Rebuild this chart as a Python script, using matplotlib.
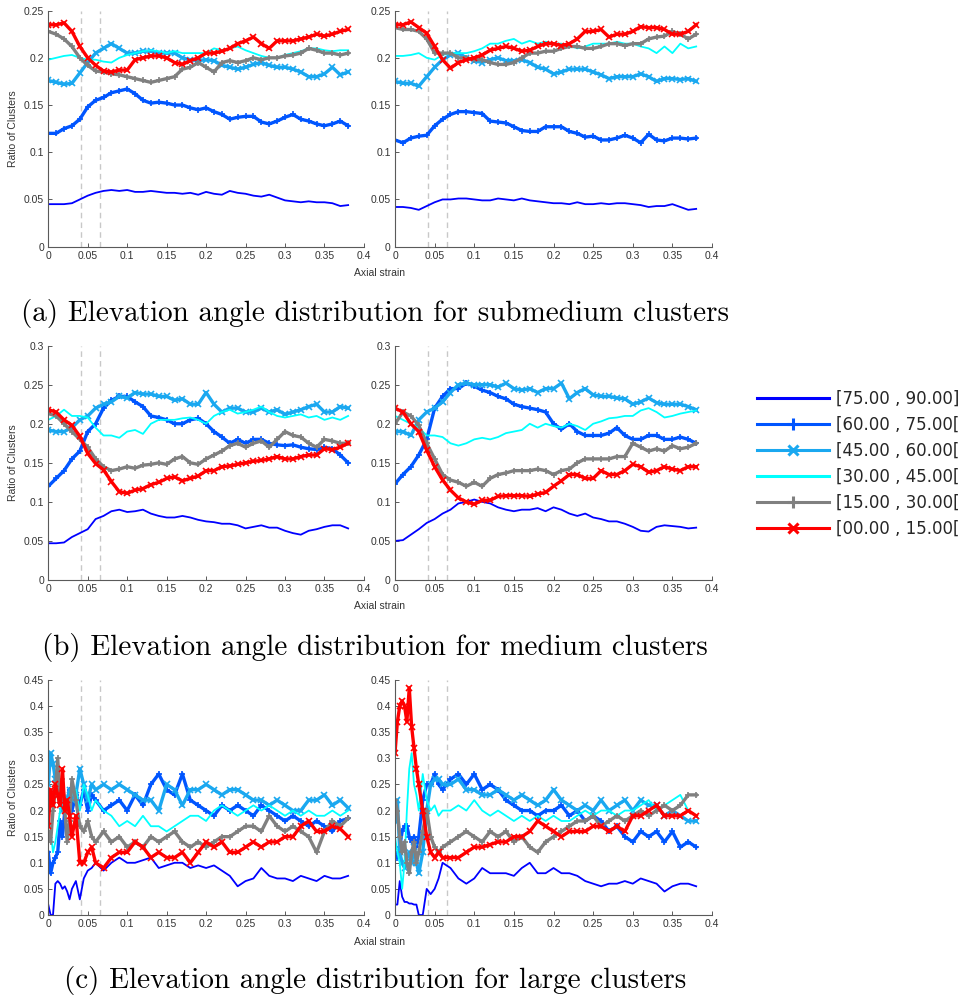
import matplotlib.pyplot as plt
from matplotlib.lines import Line2D
from matplotlib.ticker import FormatStrFormatter, MultipleLocator
import numpy as np


# Elevation angle bins, in legend order (top to bottom)
bin_labels = [
    "[75.00 , 90.00]",
    "[60.00 , 75.00[",
    "[45.00 , 60.00[",
    "[30.00 , 45.00[",
    "[15.00 , 30.00[",
    "[00.00 , 15.00[",
]

# Axial strain samples for rows (a) and (b)
strain_ab = np.arange(39) / 100
# Row (c) is read finer at the start, where the curves spike
strain_c = np.array(
    [0, 0.003, 0.006, 0.009, 0.012, 0.015, 0.018, 0.021, 0.024, 0.027,
     0.03, 0.035, 0.04, 0.045, 0.05, 0.055, 0.06]
    + list(np.arange(7, 39) / 100)
)

# Strain values marked with dashed lines
marker_strains = [0.042, 0.065]

# ---- (a) submedium clusters, left ----
a_left_75_90 = [0.045, 0.045, 0.045, 0.046, 0.05, 0.054, 0.057, 0.059, 0.06, 0.059,
                0.06, 0.058, 0.058, 0.059, 0.058, 0.057, 0.057, 0.056, 0.057, 0.055,
                0.058, 0.056, 0.055, 0.059, 0.057, 0.056, 0.054, 0.053, 0.055, 0.052,
                0.049, 0.048, 0.047, 0.048, 0.047, 0.047, 0.046, 0.043, 0.044]
a_left_60_75 = [0.12, 0.12, 0.125, 0.128, 0.135, 0.148, 0.155, 0.158, 0.163, 0.165,
                0.167, 0.162, 0.155, 0.152, 0.153, 0.152, 0.15, 0.15, 0.147, 0.145,
                0.147, 0.143, 0.14, 0.135, 0.137, 0.138, 0.138, 0.132, 0.13, 0.133,
                0.137, 0.14, 0.135, 0.133, 0.13, 0.128, 0.13, 0.133, 0.128]
a_left_45_60 = [0.176, 0.174, 0.172, 0.173, 0.184, 0.195, 0.205, 0.21, 0.215, 0.21,
                0.205, 0.205, 0.207, 0.207, 0.205, 0.205, 0.205, 0.2, 0.198, 0.197,
                0.198, 0.197, 0.192, 0.19, 0.188, 0.19, 0.193, 0.195, 0.192, 0.19,
                0.19, 0.188, 0.185, 0.18, 0.18, 0.183, 0.19, 0.182, 0.185]
a_left_30_45 = [0.198, 0.2, 0.202, 0.203, 0.2, 0.198, 0.198, 0.196, 0.195, 0.2,
                0.203, 0.205, 0.207, 0.208, 0.207, 0.205, 0.207, 0.205, 0.205, 0.205,
                0.205, 0.21, 0.208, 0.21, 0.212, 0.208, 0.205, 0.202, 0.2, 0.2,
                0.203, 0.205, 0.207, 0.21, 0.21, 0.208, 0.207, 0.208, 0.208]
a_left_15_30 = [0.228, 0.225, 0.22, 0.212, 0.2, 0.192, 0.186, 0.185, 0.183, 0.182,
                0.18, 0.178, 0.176, 0.174, 0.176, 0.178, 0.18, 0.188, 0.19, 0.195,
                0.19, 0.185, 0.195, 0.197, 0.195, 0.197, 0.2, 0.198, 0.2, 0.2,
                0.202, 0.203, 0.205, 0.21, 0.208, 0.205, 0.205, 0.203, 0.205]
a_left_00_15 = [0.235, 0.235, 0.237, 0.228, 0.212, 0.2, 0.192, 0.186, 0.185, 0.187,
                0.187, 0.198, 0.2, 0.202, 0.202, 0.2, 0.195, 0.193, 0.197, 0.2,
                0.205, 0.205, 0.207, 0.21, 0.215, 0.218, 0.222, 0.215, 0.21, 0.218,
                0.218, 0.218, 0.22, 0.222, 0.225, 0.223, 0.225, 0.228, 0.23]

# ---- (a) submedium clusters, right ----
a_right_75_90 = [0.042, 0.042, 0.041, 0.039, 0.043, 0.047, 0.05, 0.05, 0.051, 0.051,
                 0.05, 0.049, 0.049, 0.051, 0.05, 0.049, 0.051, 0.049, 0.048, 0.047,
                 0.046, 0.046, 0.045, 0.047, 0.045, 0.045, 0.046, 0.045, 0.046, 0.046,
                 0.045, 0.044, 0.042, 0.043, 0.043, 0.045, 0.042, 0.039, 0.04]
a_right_60_75 = [0.113, 0.11, 0.115, 0.117, 0.118, 0.128, 0.135, 0.14, 0.143, 0.143,
                 0.142, 0.141, 0.133, 0.132, 0.131, 0.127, 0.123, 0.122, 0.122, 0.127,
                 0.127, 0.127, 0.122, 0.12, 0.116, 0.117, 0.113, 0.113, 0.115, 0.118,
                 0.115, 0.11, 0.119, 0.113, 0.112, 0.115, 0.115, 0.114, 0.115]
a_right_45_60 = [0.175, 0.173, 0.173, 0.17, 0.18, 0.19, 0.198, 0.203, 0.205, 0.2,
                 0.197, 0.195, 0.198, 0.2, 0.197, 0.197, 0.198, 0.195, 0.19, 0.188,
                 0.183, 0.185, 0.188, 0.188, 0.188, 0.185, 0.182, 0.178, 0.18, 0.18,
                 0.18, 0.183, 0.18, 0.175, 0.178, 0.178, 0.177, 0.178, 0.175]
a_right_30_45 = [0.202, 0.202, 0.203, 0.205, 0.2, 0.198, 0.203, 0.205, 0.205, 0.205,
                 0.207, 0.21, 0.215, 0.215, 0.218, 0.22, 0.215, 0.218, 0.215, 0.217,
                 0.215, 0.215, 0.213, 0.21, 0.212, 0.215, 0.215, 0.215, 0.217, 0.215,
                 0.215, 0.212, 0.21, 0.205, 0.212, 0.205, 0.215, 0.21, 0.212]
a_right_15_30 = [0.232, 0.23, 0.23, 0.228, 0.22, 0.205, 0.205, 0.205, 0.2, 0.2,
                 0.198, 0.198, 0.195, 0.193, 0.193, 0.195, 0.2, 0.205, 0.205, 0.207,
                 0.207, 0.21, 0.212, 0.212, 0.21, 0.21, 0.212, 0.215, 0.215, 0.213,
                 0.215, 0.215, 0.22, 0.222, 0.223, 0.228, 0.225, 0.22, 0.225]
a_right_00_15 = [0.235, 0.235, 0.238, 0.232, 0.226, 0.212, 0.198, 0.189, 0.195, 0.198,
                 0.2, 0.203, 0.208, 0.21, 0.212, 0.21, 0.207, 0.208, 0.212, 0.215,
                 0.215, 0.213, 0.215, 0.22, 0.228, 0.228, 0.23, 0.222, 0.225, 0.225,
                 0.228, 0.233, 0.232, 0.232, 0.23, 0.225, 0.225, 0.228, 0.235]

# ---- (b) medium clusters, left ----
b_left_75_90 = [0.047, 0.047, 0.048, 0.055, 0.06, 0.065, 0.078, 0.082, 0.088, 0.09,
                0.087, 0.088, 0.09, 0.085, 0.082, 0.08, 0.08, 0.082, 0.08, 0.077,
                0.075, 0.074, 0.072, 0.072, 0.07, 0.066, 0.068, 0.07, 0.067, 0.067,
                0.063, 0.06, 0.058, 0.063, 0.065, 0.068, 0.07, 0.07, 0.066]
b_left_60_75 = [0.12, 0.13, 0.14, 0.155, 0.165, 0.19, 0.2, 0.22, 0.23, 0.235,
                0.235, 0.228, 0.222, 0.21, 0.208, 0.205, 0.2, 0.2, 0.205, 0.207,
                0.2, 0.19, 0.183, 0.175, 0.18, 0.175, 0.18, 0.18, 0.175, 0.173,
                0.172, 0.173, 0.17, 0.168, 0.167, 0.17, 0.168, 0.16, 0.15]
b_left_45_60 = [0.192, 0.19, 0.19, 0.195, 0.205, 0.21, 0.22, 0.225, 0.228, 0.235,
                0.233, 0.24, 0.238, 0.238, 0.235, 0.235, 0.23, 0.232, 0.225, 0.225,
                0.24, 0.225, 0.215, 0.22, 0.22, 0.215, 0.215, 0.22, 0.215, 0.218,
                0.212, 0.215, 0.218, 0.222, 0.225, 0.215, 0.215, 0.222, 0.22]
b_left_30_45 = [0.205, 0.21, 0.218, 0.21, 0.21, 0.208, 0.195, 0.185, 0.185, 0.182,
                0.19, 0.192, 0.187, 0.2, 0.205, 0.205, 0.205, 0.207, 0.208, 0.205,
                0.2, 0.21, 0.215, 0.218, 0.213, 0.215, 0.218, 0.222, 0.215, 0.21,
                0.208, 0.21, 0.212, 0.208, 0.21, 0.205, 0.208, 0.205, 0.21]
b_left_15_30 = [0.213, 0.21, 0.2, 0.19, 0.18, 0.17, 0.155, 0.145, 0.14, 0.142,
                0.145, 0.143, 0.147, 0.148, 0.15, 0.148, 0.155, 0.158, 0.15, 0.148,
                0.155, 0.16, 0.165, 0.172, 0.175, 0.17, 0.175, 0.178, 0.17, 0.18,
                0.19, 0.185, 0.183, 0.175, 0.17, 0.18, 0.178, 0.175, 0.175]
b_left_00_15 = [0.218, 0.215, 0.205, 0.198, 0.184, 0.162, 0.149, 0.141, 0.126, 0.113,
                0.111, 0.115, 0.117, 0.122, 0.125, 0.13, 0.132, 0.127, 0.13, 0.133,
                0.14, 0.14, 0.145, 0.146, 0.148, 0.15, 0.152, 0.153, 0.155, 0.158,
                0.155, 0.155, 0.158, 0.16, 0.16, 0.168, 0.167, 0.17, 0.175]

# ---- (b) medium clusters, right ----
b_right_75_90 = [0.05, 0.051, 0.058, 0.065, 0.073, 0.078, 0.085, 0.09, 0.098, 0.1,
                 0.103, 0.1, 0.098, 0.093, 0.09, 0.088, 0.09, 0.09, 0.092, 0.088,
                 0.093, 0.09, 0.085, 0.082, 0.085, 0.08, 0.078, 0.075, 0.075, 0.072,
                 0.068, 0.063, 0.062, 0.068, 0.07, 0.069, 0.068, 0.066, 0.067]
b_right_60_75 = [0.123, 0.135, 0.145, 0.16, 0.18, 0.22, 0.235, 0.245, 0.245, 0.252,
                 0.248, 0.243, 0.24, 0.235, 0.232, 0.225, 0.222, 0.22, 0.218, 0.215,
                 0.2, 0.193, 0.2, 0.19, 0.185, 0.185, 0.185, 0.188, 0.195, 0.185,
                 0.18, 0.18, 0.185, 0.185, 0.18, 0.18, 0.183, 0.18, 0.175]
b_right_45_60 = [0.19, 0.19, 0.185, 0.205, 0.215, 0.22, 0.228, 0.24, 0.25, 0.252,
                 0.25, 0.25, 0.25, 0.247, 0.252, 0.245, 0.243, 0.245, 0.24, 0.245,
                 0.245, 0.252, 0.232, 0.24, 0.245, 0.237, 0.235, 0.235, 0.233, 0.232,
                 0.225, 0.228, 0.233, 0.227, 0.225, 0.225, 0.225, 0.222, 0.218]
b_right_30_45 = [0.21, 0.205, 0.2, 0.195, 0.185, 0.185, 0.183, 0.175, 0.172, 0.175,
                 0.18, 0.182, 0.18, 0.183, 0.188, 0.19, 0.192, 0.2, 0.195, 0.2,
                 0.197, 0.195, 0.2, 0.197, 0.192, 0.2, 0.203, 0.207, 0.208, 0.21,
                 0.21, 0.217, 0.22, 0.215, 0.208, 0.21, 0.213, 0.215, 0.217]
b_right_15_30 = [0.2, 0.215, 0.21, 0.198, 0.175, 0.155, 0.135, 0.128, 0.125, 0.12,
                 0.125, 0.12, 0.13, 0.135, 0.137, 0.14, 0.14, 0.14, 0.142, 0.14,
                 0.135, 0.14, 0.142, 0.15, 0.155, 0.155, 0.155, 0.155, 0.158, 0.158,
                 0.175, 0.17, 0.165, 0.168, 0.165, 0.172, 0.168, 0.17, 0.175]
b_right_00_15 = [0.22, 0.215, 0.2, 0.19, 0.166, 0.145, 0.128, 0.115, 0.105, 0.1,
                 0.097, 0.102, 0.102, 0.107, 0.108, 0.108, 0.108, 0.107, 0.11, 0.112,
                 0.12, 0.127, 0.135, 0.135, 0.13, 0.13, 0.14, 0.135, 0.135, 0.14,
                 0.148, 0.145, 0.138, 0.14, 0.145, 0.142, 0.14, 0.145, 0.145]

# ---- (c) large clusters, left ----
c_left_75_90 = [0.02, 0.0, 0.0, 0.06, 0.065, 0.06, 0.05, 0.055, 0.045, 0.03,
                0.05, 0.065, 0.03, 0.07, 0.085, 0.09, 0.1,
                0.085, 0.1, 0.11, 0.1, 0.1, 0.105, 0.11, 0.09, 0.095, 0.1,
                0.1, 0.09, 0.095, 0.09, 0.095, 0.085, 0.075, 0.055, 0.065, 0.07,
                0.09, 0.075, 0.07, 0.07, 0.065, 0.075, 0.07, 0.065, 0.075, 0.07,
                0.07, 0.075]
c_left_60_75 = [0.12, 0.08, 0.1, 0.11, 0.12, 0.18, 0.15, 0.2, 0.22, 0.24,
                0.2, 0.23, 0.21, 0.24, 0.2, 0.23, 0.22,
                0.2, 0.21, 0.22, 0.2, 0.23, 0.21, 0.25, 0.27, 0.24, 0.23,
                0.27, 0.22, 0.21, 0.2, 0.19, 0.21, 0.2, 0.21, 0.2, 0.19,
                0.21, 0.2, 0.19, 0.18, 0.19, 0.18, 0.17, 0.18, 0.17, 0.16,
                0.18, 0.185]
c_left_45_60 = [0.25, 0.31, 0.29, 0.26, 0.25, 0.22, 0.2, 0.21, 0.22, 0.24,
                0.22, 0.23, 0.28, 0.25, 0.22, 0.25, 0.24,
                0.25, 0.24, 0.25, 0.24, 0.23, 0.22, 0.22, 0.2, 0.25, 0.24,
                0.21, 0.24, 0.24, 0.25, 0.24, 0.23, 0.24, 0.24, 0.23, 0.22,
                0.22, 0.21, 0.22, 0.21, 0.2, 0.2, 0.22, 0.22, 0.23, 0.21,
                0.22, 0.205]
c_left_30_45 = [0.15, 0.16, 0.12, 0.14, 0.17, 0.2, 0.22, 0.23, 0.21, 0.22,
                0.23, 0.24, 0.2, 0.25, 0.23, 0.2, 0.22,
                0.2, 0.19, 0.17, 0.18, 0.17, 0.19, 0.17, 0.17, 0.16, 0.17,
                0.18, 0.19, 0.19, 0.18, 0.2, 0.21, 0.2, 0.19, 0.2, 0.21,
                0.2, 0.21, 0.2, 0.19, 0.2, 0.19, 0.2, 0.19, 0.19, 0.2,
                0.19, 0.2]
c_left_15_30 = [0.16, 0.14, 0.2, 0.24, 0.3, 0.22, 0.26, 0.2, 0.14, 0.18,
                0.26, 0.22, 0.17, 0.16, 0.18, 0.15, 0.14,
                0.16, 0.14, 0.15, 0.13, 0.14, 0.13, 0.15, 0.14, 0.15, 0.16,
                0.14, 0.13, 0.14, 0.13, 0.14, 0.15, 0.15, 0.16, 0.17, 0.17,
                0.16, 0.19, 0.17, 0.16, 0.17, 0.16, 0.15, 0.12, 0.16, 0.18,
                0.17, 0.185]
c_left_00_15 = [0.17, 0.24, 0.21, 0.25, 0.23, 0.21, 0.28, 0.2, 0.22, 0.19,
                0.15, 0.19, 0.1, 0.1, 0.12, 0.13, 0.1,
                0.09, 0.11, 0.12, 0.12, 0.14, 0.13, 0.11, 0.12, 0.11, 0.11,
                0.12, 0.1, 0.12, 0.14, 0.13, 0.14, 0.12, 0.12, 0.13, 0.14,
                0.13, 0.14, 0.14, 0.15, 0.15, 0.17, 0.18, 0.16, 0.16, 0.17,
                0.165, 0.15]

# ---- (c) large clusters, right ----
c_right_75_90 = [0.02, 0.02, 0.065, 0.035, 0.025, 0.025, 0.022, 0.022, 0.02, 0.02,
                 0.0, 0.0, 0.05, 0.04, 0.05, 0.07, 0.1,
                 0.09, 0.07, 0.06, 0.07, 0.09, 0.08, 0.08, 0.08, 0.075, 0.09,
                 0.1, 0.08, 0.08, 0.09, 0.08, 0.08, 0.075, 0.065, 0.06, 0.055,
                 0.06, 0.06, 0.065, 0.06, 0.07, 0.065, 0.06, 0.045, 0.055, 0.06,
                 0.06, 0.055]
c_right_60_75 = [0.12, 0.11, 0.13, 0.16, 0.17, 0.17, 0.15, 0.14, 0.15, 0.13,
                 0.15, 0.22, 0.25, 0.25, 0.27, 0.25, 0.24,
                 0.26, 0.27, 0.25, 0.27, 0.24, 0.25, 0.24, 0.22, 0.21, 0.2,
                 0.2, 0.19, 0.2, 0.2, 0.21, 0.19, 0.2, 0.18, 0.19, 0.18,
                 0.16, 0.17, 0.15, 0.14, 0.16, 0.15, 0.16, 0.14, 0.16, 0.13,
                 0.14, 0.13]
c_right_45_60 = [0.18, 0.22, 0.12, 0.1, 0.09, 0.11, 0.12, 0.1, 0.13, 0.1,
                 0.08, 0.12, 0.2, 0.25, 0.26, 0.26, 0.25,
                 0.25, 0.26, 0.24, 0.24, 0.23, 0.23, 0.24, 0.23, 0.22, 0.23,
                 0.22, 0.21, 0.22, 0.24, 0.22, 0.21, 0.2, 0.21, 0.2, 0.22,
                 0.2, 0.21, 0.22, 0.2, 0.22, 0.21, 0.21, 0.19, 0.2, 0.19,
                 0.18, 0.18]
c_right_30_45 = [0.15, 0.12, 0.1, 0.05, 0.1, 0.2, 0.28, 0.31, 0.25, 0.23,
                 0.2, 0.27, 0.22, 0.2, 0.21, 0.19, 0.2,
                 0.2, 0.21, 0.2, 0.22, 0.2, 0.19, 0.2, 0.19, 0.18, 0.19,
                 0.18, 0.19, 0.18, 0.19, 0.18, 0.18, 0.19, 0.2, 0.19, 0.2,
                 0.2, 0.19, 0.2, 0.2, 0.21, 0.22, 0.2, 0.21, 0.22, 0.23,
                 0.2, 0.19]
c_right_15_30 = [0.22, 0.2, 0.15, 0.12, 0.14, 0.1, 0.08, 0.12, 0.14, 0.1,
                 0.12, 0.16, 0.2, 0.15, 0.13, 0.12, 0.13,
                 0.14, 0.15, 0.16, 0.15, 0.14, 0.16, 0.15, 0.16, 0.14, 0.15,
                 0.13, 0.12, 0.14, 0.15, 0.16, 0.17, 0.18, 0.18, 0.19, 0.17,
                 0.18, 0.19, 0.18, 0.19, 0.2, 0.19, 0.2, 0.21, 0.2, 0.21,
                 0.23, 0.23]
c_right_00_15 = [0.31, 0.37, 0.4, 0.41, 0.4, 0.37, 0.435, 0.36, 0.32, 0.28,
                 0.25, 0.2, 0.15, 0.12, 0.11, 0.12, 0.11,
                 0.11, 0.11, 0.12, 0.13, 0.13, 0.135, 0.14, 0.14, 0.15, 0.15,
                 0.16, 0.18, 0.17, 0.16, 0.15, 0.16, 0.16, 0.16, 0.17, 0.17,
                 0.16, 0.17, 0.16, 0.19, 0.19, 0.2, 0.21, 0.19, 0.19, 0.19,
                 0.2, 0.19]

captions = [
    "(a) Elevation angle distribution for submedium clusters",
    "(b) Elevation angle distribution for medium clusters",
    "(c) Elevation angle distribution for large clusters",
]

# Line style per bin (same order as bin_labels)
bin_styles = [
    {"color": "#0000ff", "lw": 1.3, "marker": None, "ms": 0},
    {"color": "#0055ff", "lw": 2.4, "marker": "+", "ms": 5},
    {"color": "#1aa8f0", "lw": 2.4, "marker": "x", "ms": 4.5},
    {"color": "#00ffff", "lw": 1.3, "marker": None, "ms": 0},
    {"color": "#808080", "lw": 2.4, "marker": "+", "ms": 5},
    {"color": "#ff0000", "lw": 2.4, "marker": "x", "ms": 4.5},
]

axis_color = "#5a5a5a"
text_color = "#333333"
sans = ["Liberation Sans", "DejaVu Sans"]


def draw_panel(ax, strain, series, ymax, show_ylabel):
    """Draw one panel: six bins against axial strain, MATLAB-like axes."""
    for xs in marker_strains:
        ax.axvline(xs, color="#c8c8c8", lw=1.0, ls=(0, (4, 3)), zorder=1)

    for values, style in zip(series, bin_styles):
        ax.plot(
            strain,
            values,
            color=style["color"],
            lw=style["lw"],
            marker=style["marker"],
            markersize=style["ms"],
            markeredgewidth=1.2,
            zorder=2,
        )

    ax.set_xlim(0, 0.4)
    ax.set_ylim(0, ymax)
    ax.xaxis.set_major_locator(MultipleLocator(0.05))
    ax.yaxis.set_major_locator(MultipleLocator(0.05))
    ax.xaxis.set_major_formatter(FormatStrFormatter("%g"))
    ax.yaxis.set_major_formatter(FormatStrFormatter("%g"))

    for side in ["top", "right"]:
        ax.spines[side].set_visible(False)
    for side in ["left", "bottom"]:
        ax.spines[side].set_color(axis_color)
        ax.spines[side].set_linewidth(0.8)

    ax.tick_params(
        direction="in",
        length=3,
        width=0.7,
        color=axis_color,
        labelcolor=text_color,
        labelsize=7.5,
        pad=3,
    )
    for lab in ax.get_xticklabels() + ax.get_yticklabels():
        lab.set_family(sans)

    if show_ylabel:
        ax.set_ylabel("Ratio of Clusters", fontsize=7.5, color=text_color, family=sans)
        ax.yaxis.set_label_coords(-0.095, 0.5)


fig = plt.figure(figsize=(9.71, 10.01), dpi=100)

# (bottom, height, ymax) for each row, (left, width) for each column
row_boxes = [(0.7536, 0.2358, 0.25), (0.4206, 0.2341, 0.3), (0.0859, 0.2348, 0.45)]
col_boxes = [(0.0497, 0.3251), (0.4068, 0.3265)]

panel_data = [
    [
        (strain_ab, [a_left_75_90, a_left_60_75, a_left_45_60, a_left_30_45, a_left_15_30, a_left_00_15]),
        (strain_ab, [a_right_75_90, a_right_60_75, a_right_45_60, a_right_30_45, a_right_15_30, a_right_00_15]),
    ],
    [
        (strain_ab, [b_left_75_90, b_left_60_75, b_left_45_60, b_left_30_45, b_left_15_30, b_left_00_15]),
        (strain_ab, [b_right_75_90, b_right_60_75, b_right_45_60, b_right_30_45, b_right_15_30, b_right_00_15]),
    ],
    [
        (strain_c, [c_left_75_90, c_left_60_75, c_left_45_60, c_left_30_45, c_left_15_30, c_left_00_15]),
        (strain_c, [c_right_75_90, c_right_60_75, c_right_45_60, c_right_30_45, c_right_15_30, c_right_00_15]),
    ],
]

# x label and caption vertical positions (figure fraction) per row
xlabel_y = [0.7273, 0.3946, 0.0589]
caption_y = [0.687, 0.3536, 0.02]

for r, (bottom, height, ymax) in enumerate(row_boxes):
    for c, (left, width) in enumerate(col_boxes):
        ax = fig.add_axes([left, bottom, width, height])
        strain, series = panel_data[r][c]
        draw_panel(ax, strain, series, ymax, show_ylabel=(c == 0))

    fig.text(0.391, xlabel_y[r], "Axial strain", ha="center", va="center",
             fontsize=7.5, color=text_color, family=sans)
    fig.text(0.386, caption_y[r], captions[r], ha="center", va="center",
             fontsize=21, color="black", family="cmr10")

# Shared legend on the right
handles = [
    Line2D([0], [0], color=s["color"], lw=2.2, marker=s["marker"],
           markersize=9 if s["marker"] == "+" else 7, markeredgewidth=2.2)
    for s in bin_styles
]
fig.legend(
    handles,
    bin_labels,
    loc="upper left",
    bbox_to_anchor=(0.7796, 0.611),
    frameon=False,
    fontsize=12,
    handlelength=4.3,
    handletextpad=0.45,
    labelspacing=0.48,
    borderpad=0,
    borderaxespad=0,
    labelcolor="#262626",
)

plt.savefig("out.png", dpi=100)
plt.close()
